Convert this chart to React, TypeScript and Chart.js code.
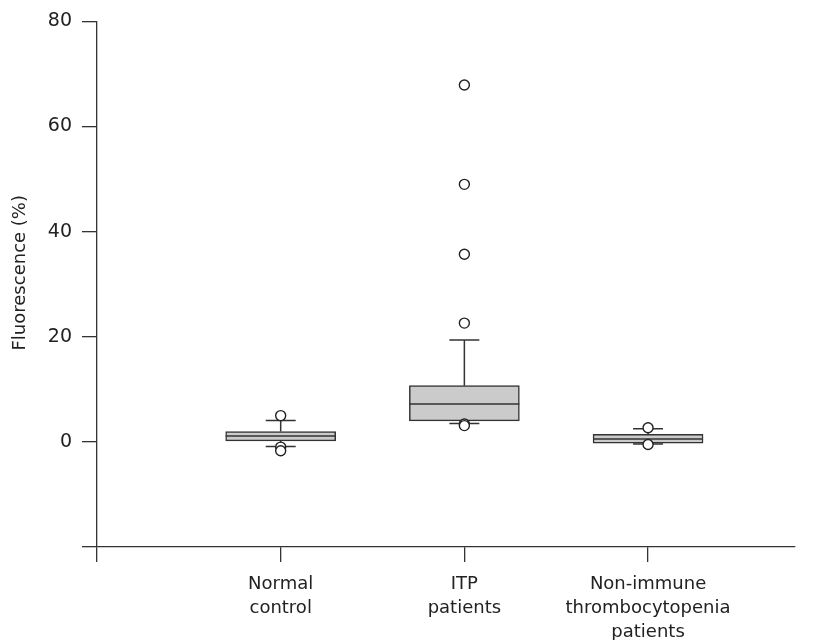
import React, { useEffect, useRef } from "react";
import { Chart, registerables } from "chart.js";

Chart.register(...registerables);

const categories: string[][] = [
  ["Normal", "control"],
  ["ITP", "patients"],
  ["Non-immune", "thrombocytopenia", "patients"],
];
const positions = [1, 2, 3];
const q1 = [0.2, 4.0, -0.25];
const median = [1.1, 7.2, 0.57];
const q3 = [1.96, 10.7, 1.45];
const whiskerLow = [-0.9, 3.5, -0.4];
const whiskerHigh = [4.05, 19.4, 2.5];
const outliersNormal = [5.0, -1.0, -1.7];
const outliersITP = [67.9, 49.0, 35.7, 22.6, 3.4, 3.1];
const outliersNonImmune = [2.7, -0.5];
const yTicks = [-20, 0, 20, 40, 60, 80];
const xTicks = [0, 1, 2, 3];

const FONT = "'DejaVu Sans', 'Liberation Sans', sans-serif";
const LINE = "#333333";
const TEXT = "#222222";

const whiskerPlugin = {
  id: "whiskers",
  afterDatasetDraw(chart: any, args: any) {
    if (args.index !== 0) return;
    const { ctx } = chart;
    const xs = chart.scales.x;
    const ys = chart.scales.y;
    const half = 55;
    const cap = 15;
    ctx.save();
    ctx.strokeStyle = LINE;
    ctx.lineWidth = 1.5;
    positions.forEach((p, i) => {
      const x = xs.getPixelForValue(p);
      const m = ys.getPixelForValue(median[i]);
      const top = ys.getPixelForValue(q3[i]);
      const bot = ys.getPixelForValue(q1[i]);
      const wh = ys.getPixelForValue(whiskerHigh[i]);
      const wl = ys.getPixelForValue(whiskerLow[i]);
      ctx.beginPath();
      ctx.moveTo(x - half, m);
      ctx.lineTo(x + half, m);
      ctx.moveTo(x, top);
      ctx.lineTo(x, wh);
      ctx.moveTo(x - cap, wh);
      ctx.lineTo(x + cap, wh);
      ctx.moveTo(x, bot);
      ctx.lineTo(x, wl);
      ctx.moveTo(x - cap, wl);
      ctx.lineTo(x + cap, wl);
      ctx.stroke();
    });
    ctx.restore();
  },
};

export default function App() {
  const ref = useRef<HTMLCanvasElement | null>(null);
  useEffect(() => {
    if (!ref.current) return;
    const outlierPoints = [
      ...outliersNormal.map((v) => ({ x: positions[0], y: v })),
      ...outliersITP.map((v) => ({ x: positions[1], y: v })),
      ...outliersNonImmune.map((v) => ({ x: positions[2], y: v })),
    ];
    const chart = new Chart(ref.current, {
      type: "bar",
      data: {
        datasets: [
          {
            type: "bar",
            order: 1,
            data: positions.map((p, i) => ({ x: p, y: [q1[i], q3[i]] })) as any,
            backgroundColor: "#cbcbcb",
            borderColor: LINE,
            borderWidth: 1.5,
            borderSkipped: false,
            barThickness: 110,
          } as any,
          {
            type: "scatter",
            order: 0,
            data: outlierPoints,
            pointStyle: "circle",
            pointRadius: 5,
            pointBackgroundColor: "#ffffff",
            pointBorderColor: "#222222",
            pointBorderWidth: 1.4,
          } as any,
        ],
      },
      options: {
        animation: false,
        responsive: true,
        maintainAspectRatio: false,
        layout: { padding: { top: 21, right: 23, left: 0, bottom: 0 } },
        plugins: { legend: { display: false }, tooltip: { enabled: false } },
        scales: {
          x: {
            type: "linear",
            min: 0,
            max: 3.8,
            offset: false,
            afterBuildTicks: (scale: any) => {
              scale.ticks = xTicks.map((v) => ({ value: v }));
            },
            afterFit: (scale: any) => {
              scale.height = 93;
            },
            ticks: {
              autoSkip: false,
              maxRotation: 0,
              padding: 10,
              color: TEXT,
              font: { family: FONT, size: 18, lineHeight: 1.33 },
              callback: (v: any) => (v === 0 ? "" : categories[Number(v) - 1]),
            },
            grid: {
              offset: false,
              drawOnChartArea: false,
              drawTicks: true,
              tickLength: 15,
              color: LINE,
              lineWidth: 1.3,
            },
            border: { display: true, color: LINE, width: 1.3 },
          },
          y: {
            type: "linear",
            min: -20,
            max: 80,
            afterBuildTicks: (scale: any) => {
              scale.ticks = yTicks.map((v) => ({ value: v }));
            },
            afterFit: (scale: any) => {
              scale.width = 97;
            },
            ticks: {
              padding: 10,
              color: TEXT,
              font: { family: FONT, size: 19 },
              callback: (v: any) => (v === -20 ? "" : String(v)),
            },
            grid: {
              drawOnChartArea: false,
              drawTicks: true,
              tickLength: 15,
              color: LINE,
              lineWidth: 1.3,
            },
            border: { display: true, color: LINE, width: 1.3 },
            title: {
              display: true,
              text: "    Fluorescence (%)",
              color: TEXT,
              font: { family: FONT, size: 18 },
              padding: { top: 10, bottom: 0 },
            },
          },
        },
      },
      plugins: [whiskerPlugin],
    });
    return () => chart.destroy();
  }, []);
  return (
    <div style={{ position: "fixed", left: 0, top: 0, width: 818, height: 640, background: "#fff" }}>
      <canvas ref={ref} />
    </div>
  );
}
